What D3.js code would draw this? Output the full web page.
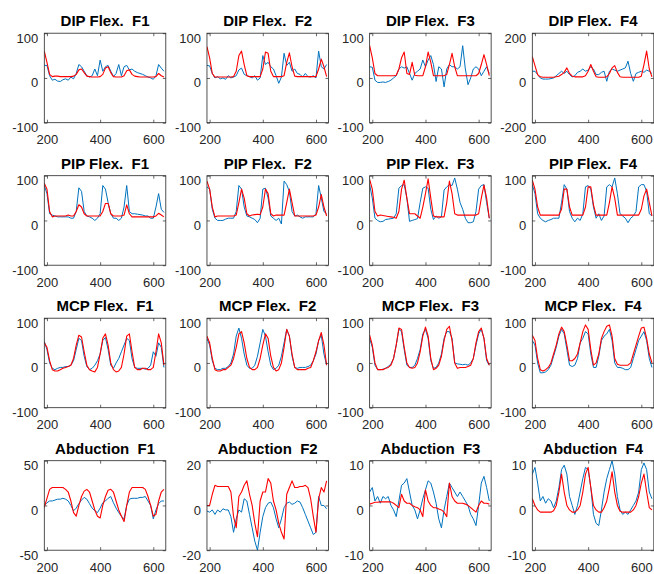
<!DOCTYPE html>
<html><head><meta charset="utf-8">
<script src="https://cdn.jsdelivr.net/npm/d3@7"></script>
<style>
html,body{margin:0;padding:0;background:#fff;}
svg{display:block;font-family:"Liberation Sans",Arial,Helvetica,sans-serif;}
</style>
</head><body>
<svg id="chart" width="654" height="574"></svg>
<script>
// ---------- data ----------
const xs = [190,200,210,220,230,240,250,260,270,280,290,300,310,320,330,340,350,360,370,380,390,400,410,420,430,440,450,460,470,480,490,500,510,520,530,540,550,560,570,580,590,600,610,620,630,640];
const xDomain = [190, 647];
const xTickVals = [200, 400, 600];

const titles = ["DIP Flex.  F1","DIP Flex.  F2","DIP Flex.  F3","DIP Flex.  F4",
                "PIP Flex.  F1","PIP Flex.  F2","PIP Flex.  F3","PIP Flex.  F4",
                "MCP Flex.  F1","MCP Flex.  F2","MCP Flex.  F3","MCP Flex.  F4",
                "Abduction  F1","Abduction  F2","Abduction  F3","Abduction  F4"];
const yDomains = [[-100,100],[-100,100],[-100,100],[-200,200],
                  [-100,100],[-100,100],[-100,100],[-100,100],
                  [-100,100],[-100,100],[-100,100],[-100,100],
                  [-50,50],[-20,20],[-10,10],[-10,10]];
const yTickVals = [[-100,0,100],[-100,0,100],[-100,0,100],[-200,0,200],
                   [-100,0,100],[-100,0,100],[-100,0,100],[-100,0,100],
                   [-100,0,100],[-100,0,100],[-100,0,100],[-100,0,100],
                   [-50,0,50],[-20,0,20],[-10,0,10],[-10,0,10]];

// measured (blue) and estimated (red)
const dip1Blue = [28,28,5,-5,-3,-7,-8,-4,-2,-5,2,-2,10,30,25,15,5,2,5,20,5,40,15,25,28,15,3,10,30,5,25,28,18,20,15,12,10,8,5,2,0,-3,5,30,22,15];
const dip1Red  = [60,35,8,3,4,4,3,3,3,3,3,4,8,18,20,12,4,3,2,2,2,3,8,22,25,12,3,2,2,2,5,16,18,8,4,3,2,2,2,2,2,2,3,10,5,2];
const dip2Blue = [28,27,10,0,3,-2,0,-3,5,0,2,5,18,22,8,5,3,0,5,-5,0,50,30,35,25,20,5,-12,2,55,28,35,15,20,10,8,2,10,3,2,5,0,60,25,20,30];
const dip2Red  = [70,45,10,2,2,2,2,2,2,2,3,15,50,60,30,5,3,3,3,3,3,20,58,55,15,3,3,3,3,5,35,56,25,4,3,3,3,3,3,3,3,3,20,42,25,3];
const dip3Blue = [25,24,-5,-10,-10,-9,-10,-8,-5,0,5,20,25,22,25,10,-5,10,15,20,40,25,40,50,30,-8,25,20,-20,20,30,25,25,20,25,72,20,-15,0,20,25,20,5,15,25,10];
const dip3Red  = [72,45,10,5,5,5,5,5,5,5,6,20,45,58,10,8,35,6,5,5,5,25,58,35,5,5,5,5,5,8,30,55,25,5,5,5,5,5,5,5,5,10,30,52,30,5];
const dip4Blue = [30,30,15,0,-5,-5,-5,-3,0,10,20,30,20,30,15,5,10,25,30,40,30,35,50,40,15,15,25,30,-15,30,40,35,30,35,40,45,75,20,-15,20,25,30,25,35,30,20];
const dip4Red  = [95,55,15,5,3,3,3,3,3,5,8,15,25,45,20,8,5,5,5,5,10,30,60,30,5,3,3,3,5,20,45,55,25,5,3,3,3,3,3,3,3,8,60,120,40,5];

const pip1Blue = [78,60,15,12,10,8,8,8,8,8,5,5,20,73,65,20,10,8,5,0,5,15,78,70,40,15,5,5,0,5,30,78,20,15,15,14,13,12,10,10,5,5,30,60,25,18];
const pip1Red  = [83,70,20,8,10,10,10,10,10,12,10,10,20,35,30,15,10,10,10,10,10,10,20,38,38,15,10,10,10,10,12,35,15,8,8,8,8,8,8,8,8,8,10,16,12,8];
const pip2Blue = [75,70,25,5,0,0,0,3,5,5,5,20,78,70,30,10,8,5,2,-5,5,70,72,50,10,5,0,5,-8,88,80,65,20,10,12,8,5,8,8,8,8,15,78,50,20,15];
const pip2Red  = [88,70,30,8,10,10,10,10,10,10,10,12,40,70,50,15,10,12,13,14,13,30,70,60,15,10,12,12,12,12,40,70,40,10,10,10,10,10,10,10,10,12,30,58,30,10];
const pip3Blue = [80,50,5,0,-3,-2,2,3,4,5,15,72,78,80,50,-2,0,2,4,40,72,75,72,25,2,10,5,8,68,75,80,78,95,70,40,25,5,-5,-5,-3,20,70,78,80,40,5];
const pip3Red  = [92,70,20,10,12,11,10,9,8,7,5,20,70,90,50,15,15,15,10,5,30,60,93,50,10,8,8,8,8,40,88,60,15,12,12,12,12,12,12,12,12,15,50,79,50,5];
const pip4Blue = [80,60,15,5,0,-3,0,2,5,5,5,40,80,70,20,5,-3,5,0,15,75,78,70,30,5,15,0,10,75,80,75,95,60,15,10,5,-5,5,10,20,75,80,80,65,15,10];
const pip4Red  = [90,70,30,12,12,12,12,12,12,12,12,25,70,70,30,12,12,12,12,12,30,75,75,35,12,12,12,12,12,40,75,50,12,12,12,12,12,12,12,12,12,25,55,70,40,10];

const mcp1Blue = [48,30,0,-12,-15,-12,-10,-10,-8,-8,-5,5,30,55,50,15,-8,-15,-12,-5,5,20,50,57,30,-5,-12,0,10,25,40,55,50,10,-10,-12,-12,-12,-14,-12,-5,25,15,45,35,-10];
const mcp1Red  = [45,35,5,-15,-18,-18,-15,-12,-10,-8,-5,10,40,62,58,25,-5,-15,-18,-20,-10,20,55,65,40,0,-15,-20,-18,-10,20,60,65,25,-10,-15,-15,-12,-12,-15,-15,-10,25,65,45,-5];
const mcp2Blue = [55,40,5,-12,-15,-15,-12,-12,-8,0,20,60,78,55,20,-5,-12,-12,-5,15,45,75,60,25,-5,-15,-12,-5,15,45,75,60,15,-10,-12,-10,-10,-10,-8,-5,5,20,50,62,20,-5];
const mcp2Red  = [60,45,10,-15,-18,-18,-15,-15,-10,-5,10,35,65,70,45,10,-10,-15,-15,-10,10,40,65,55,15,-10,-18,-15,0,35,75,60,20,-10,-15,-15,-15,-15,-12,-10,5,25,50,68,40,-5];
const mcp3Blue = [55,35,-5,-15,-15,-14,-12,-8,-2,10,40,75,70,30,-5,-10,-10,-5,10,30,65,75,55,5,-12,-10,0,20,55,70,70,55,0,-2,-3,-4,-3,-5,0,10,40,65,75,55,5,-5];
const mcp3Red  = [62,40,0,-15,-15,-15,-12,-10,-5,10,40,78,75,35,0,-10,-12,-10,0,25,60,80,60,10,-15,-12,-5,15,50,75,82,50,0,-12,-10,-10,-10,-8,-5,10,45,70,78,55,10,-5];
const mcp4Blue = [50,40,0,-22,-22,-20,-15,-5,15,35,60,75,65,30,-5,-8,-5,10,45,55,70,65,20,-10,-10,15,50,60,65,75,50,0,-10,-10,-12,-15,-15,-10,10,30,50,60,70,50,10,-10];
const mcp4Red  = [62,50,10,-15,-18,-15,-10,0,20,40,65,80,70,40,5,5,10,20,45,70,85,75,30,-5,0,20,55,70,82,85,60,10,-3,-5,-5,-5,-5,0,20,40,60,78,80,55,20,0];

const abd1Blue = [0,3,5,5,6,7,7,8,7,5,0,-6,-3,2,6,9,7,2,-3,-6,-8,-3,3,5,8,10,3,-3,-8,-12,-15,0,7,8,8,8,9,9,10,5,0,-15,-5,2,5,5];
const abd1Red  = [-2,8,18,20,20,20,20,20,18,15,5,-8,-12,0,10,16,18,15,5,-5,-12,-14,0,10,17,18,15,5,-5,-12,-18,0,15,20,20,20,20,20,18,10,0,-12,-10,5,15,18];
const abd2Blue = [-2.5,-3,-2,-4,-2,-3,-1.5,-2,-2,-5,-12,-6,-2,-3,3,2,-4,-10,-16,-20,-12,-5,-1,1,1.5,-1,-6,-10,-6,-1,1,1.5,0.5,1,2,1.5,-1,-4,-7,-10,-13,-12,4,0,0,-1.5];
const abd2Red  = [0,0,5,9,8.5,8.5,8.5,8.5,8.5,6,-5,-10,4,6,9,11,5,0,-8,-14,2,6,6,12,10,2,-2,-8,-12,-15,5,8,11,8,8,8.5,8.5,9,8,3,-5,-12,3,8,6,11];
const abd3Blue = [3,4,1,2,0.5,2,1.5,2,0,-1,-2.5,1,4.5,5,6,3,0,-1,-3,-1,1.5,3.5,5.5,5,3,0.5,-3,-5,-1,2,5,4,3,2,3,2,1,0,-2,-3,-4.5,0,5,6.5,4,1];
const abd3Red  = [0.3,0.5,0.7,0.7,0.8,0.8,0.8,0.8,0.8,0.5,0,-0.5,2.5,1,0.5,0.5,0,-0.3,-0.5,-1,-2.5,3.5,1,0,-0.5,-0.5,-0.8,-1,-1.5,-2.5,5,2,1,0.5,0.5,0.5,0.3,0,-0.5,-1,-1.5,0,1,0.5,0.5,0.3];
const abd4Blue = [7,8.5,5,1,2,0.5,1.5,1,-0.5,1,4,8,9,7,2,0,-2,0,3,6,8.5,8,4,-2,-4,-4.5,-1,3,6,8,10,7,2,-1,-2,-1.5,-2,-1,0,1,3,8,9.5,8,3,1.5];
const abd4Red  = [1.5,0,-1,-1.5,-1.5,-1.5,-1.5,-1.5,-1.2,0,3,7,3,0,-1,-1.5,-1.5,-1,0,3,7,8.5,4,0,-1,-1.5,-1.5,-0.5,1,4,7.5,3,0,-1.3,-1.5,-1.5,-1.5,-1.5,-1,0,2,5,7,3,-0.5,-1];

const blueSeries = [dip1Blue,dip2Blue,dip3Blue,dip4Blue,pip1Blue,pip2Blue,pip3Blue,pip4Blue,
                    mcp1Blue,mcp2Blue,mcp3Blue,mcp4Blue,abd1Blue,abd2Blue,abd3Blue,abd4Blue];
const redSeries  = [dip1Red,dip2Red,dip3Red,dip4Red,pip1Red,pip2Red,pip3Red,pip4Red,
                    mcp1Red,mcp2Red,mcp3Red,mcp4Red,abd1Red,abd2Red,abd3Red,abd4Red];

// ---------- layout ----------
const left0 = 44.3, colStep = 162.67, top0 = 33.2, rowStep = 142.5;
const W = 121.5, H = 89.5;
const blue = "#0072BD", red = "#FF0000", axisCol = "#262626";

const svg = d3.select("#chart");

titles.forEach((title, i) => {
  const col = i % 4, row = Math.floor(i / 4);
  const g = svg.append("g").attr("transform", `translate(${left0 + col*colStep},${top0 + row*rowStep})`);
  const x = d3.scaleLinear().domain(xDomain).range([0, W]);
  const y = d3.scaleLinear().domain(yDomains[i]).range([H, 0]);

  const clipId = "clip" + i;
  g.append("clipPath").attr("id", clipId).append("rect").attr("width", W).attr("height", H);

  const line = d3.line().x((d, k) => x(xs[k])).y(d => y(d));
  const plot = g.append("g").attr("clip-path", `url(#${clipId})`);
  plot.append("path").datum(blueSeries[i]).attr("d", line)
      .attr("fill", "none").attr("stroke", blue).attr("stroke-width", 1).attr("stroke-linejoin", "round");
  plot.append("path").datum(redSeries[i]).attr("d", line)
      .attr("fill", "none").attr("stroke", red).attr("stroke-width", 1.1).attr("stroke-linejoin", "round");

  // axes (ticks inward)
  const xb = g.append("g").attr("transform", `translate(0,${H})`)
    .call(d3.axisBottom(x).tickValues(xTickVals).tickSize(-3).tickPadding(12.3).tickFormat(d => String(d)));
  const yl = g.append("g")
    .call(d3.axisLeft(y).tickValues(yTickVals[i]).tickSize(-3).tickPadding(6).tickFormat(d => String(d)));
  const xt = g.append("g")
    .call(d3.axisTop(x).tickValues(xTickVals).tickSize(-3).tickFormat(""));
  const yr = g.append("g").attr("transform", `translate(${W},0)`)
    .call(d3.axisRight(y).tickValues(yTickVals[i]).tickSize(-3).tickFormat(""));
  [xb, yl, xt, yr].forEach(a => {
    a.select(".domain").remove();
    a.selectAll("line").attr("stroke", axisCol).attr("stroke-width", 0.7);
    a.selectAll("text").attr("fill", axisCol).style("font-size", "13px")
      .style("font-family", '"Liberation Sans", Arial, sans-serif');
  });
  yl.selectAll("text").attr("dy", "0.69em");

  g.append("rect").attr("width", W).attr("height", H)
    .attr("fill", "none").attr("stroke", axisCol).attr("stroke-width", 0.8);

  g.append("text").attr("x", W/2).attr("y", -7)
    .attr("text-anchor", "middle").style("white-space", "pre")
    .style("font-size", "15px").style("font-weight", "bold").attr("fill", "#000")
    .text(title);
});
</script>
</body></html>
